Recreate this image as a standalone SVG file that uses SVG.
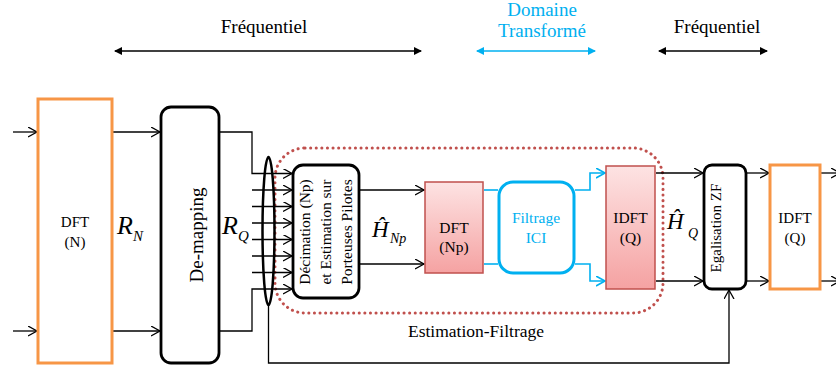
<svg xmlns="http://www.w3.org/2000/svg" width="836" height="367" viewBox="0 0 836 367">
<style>
  .t { font-family: "Liberation Serif", "Times New Roman", serif; fill: #000; }
  .ti { font-family: "Liberation Serif", "Times New Roman", serif; font-style: italic; fill: #000; }
  .blue { fill: #00b0f0; }
  .ln { fill: none; stroke: #000; stroke-width: 1.3; }
  .lnb { fill: none; stroke: #00b0f0; stroke-width: 1.6; }
  .arr { marker-end: url(#oa); }
  .arrb { marker-end: url(#ob); }
  .orange { fill: #fff; stroke: #f79646; stroke-width: 3; }
  .pink { fill: url(#pg); stroke: #c0504d; stroke-width: 1.5; }
  .rbox { fill: #fff; stroke: #000; stroke-width: 2.8; }
</style>
<defs>
  <marker id="oa" markerUnits="userSpaceOnUse" markerWidth="12" markerHeight="12" refX="9" refY="5" orient="auto">
    <path d="M0,0 L9,5 L0,10" fill="none" stroke="#000" stroke-width="1.3"/>
  </marker>
  <marker id="ob" markerUnits="userSpaceOnUse" markerWidth="12" markerHeight="12" refX="9" refY="5" orient="auto">
    <path d="M0,0 L9,5 L0,10" fill="none" stroke="#00b0f0" stroke-width="1.6"/>
  </marker>
  <marker id="fa" markerUnits="userSpaceOnUse" markerWidth="10" markerHeight="10" refX="7" refY="4" orient="auto-start-reverse">
    <path d="M0,0 L8,4 L0,8 Z" fill="#000"/>
  </marker>
  <marker id="fb" markerUnits="userSpaceOnUse" markerWidth="10" markerHeight="10" refX="7" refY="4" orient="auto-start-reverse">
    <path d="M0,0 L8,4 L0,8 Z" fill="#00b0f0"/>
  </marker>
  <linearGradient id="pg" x1="0" y1="0" x2="0" y2="1">
    <stop offset="0" stop-color="#fde3e3"/>
    <stop offset="1" stop-color="#f5a2a2"/>
  </linearGradient>
</defs>

<!-- top domain labels -->
<g id="domains">
  <text class="t" x="264" y="33" font-size="19" text-anchor="middle">Fréquentiel</text>
  <line x1="115" y1="51" x2="421" y2="51" stroke="#000" stroke-width="1.6" marker-start="url(#fa)" marker-end="url(#fa)"/>
  <text class="t blue" x="542" y="16" font-size="19" text-anchor="middle">Domaine</text>
  <text class="t blue" x="542" y="37" font-size="19" text-anchor="middle">Transformé</text>
  <line x1="477" y1="51" x2="595" y2="51" stroke="#00b0f0" stroke-width="1.6" marker-start="url(#fb)" marker-end="url(#fb)"/>
  <text class="t" x="717" y="33" font-size="19" text-anchor="middle">Fréquentiel</text>
  <line x1="659" y1="51" x2="767" y2="51" stroke="#000" stroke-width="1.6" marker-start="url(#fa)" marker-end="url(#fa)"/>
</g>

<!-- estimation-filtrage region -->
<g id="estimation-filtrage">
  <rect x="275" y="148" width="388" height="165" rx="30" ry="30" fill="none" stroke="#c0504d" stroke-width="3" stroke-dasharray="0.1 5.5" stroke-linecap="round"/>
  <text class="t" x="476" y="337" font-size="17.5" text-anchor="middle">Estimation-Filtrage</text>
</g>

<!-- connectors -->
<g id="connectors">
  <line class="ln arr" x1="13" y1="132" x2="37" y2="132"/>
  <line class="ln arr" x1="13" y1="331" x2="37" y2="331"/>
  <line class="ln arr" x1="113" y1="132" x2="160" y2="132"/>
  <line class="ln arr" x1="113" y1="331" x2="160" y2="331"/>
  <polyline class="ln arr" points="220,132 252,132 252,173.5 292,173.5"/>
  <polyline class="ln arr" points="220,331 252,331 252,289 292,289"/>
  <line class="ln arr" x1="252" y1="190" x2="292" y2="190"/>
  <line class="ln arr" x1="252" y1="206.5" x2="292" y2="206.5"/>
  <line class="ln arr" x1="252" y1="223" x2="292" y2="223"/>
  <line class="ln arr" x1="252" y1="239.5" x2="292" y2="239.5"/>
  <line class="ln arr" x1="252" y1="256" x2="292" y2="256"/>
  <line class="ln arr" x1="252" y1="272.5" x2="292" y2="272.5"/>
  <line class="ln arr" x1="360" y1="190" x2="424" y2="190"/>
  <line class="ln arr" x1="360" y1="264" x2="424" y2="264"/>
  <line class="lnb" x1="484" y1="190" x2="498" y2="190"/>
  <line class="lnb" x1="484" y1="264" x2="498" y2="264"/>
  <polyline class="lnb arrb" points="575,190 590,190 590,173 605,173"/>
  <polyline class="lnb arrb" points="575,264 590,264 590,281 605,281"/>
  <line class="ln arr" x1="656" y1="173" x2="703" y2="173"/>
  <line class="ln arr" x1="656" y1="281" x2="703" y2="281"/>
  <line class="ln arr" x1="747" y1="173" x2="769" y2="173"/>
  <line class="ln arr" x1="747" y1="281" x2="769" y2="281"/>
  <line class="ln arr" x1="821" y1="173" x2="840" y2="173"/>
  <line class="ln arr" x1="821" y1="281" x2="840" y2="281"/>
  <polyline class="ln arr" points="268.5,305 268.5,363 729,363 729,290"/>
</g>

<!-- ellipse grouping the parallel lines -->
<g id="grouping">
  <ellipse cx="268.5" cy="231" rx="6" ry="74" fill="none" stroke="#000" stroke-width="2.5"/>
</g>

<g id="dft-n">
  <rect class="orange" x="38" y="99" width="74" height="264"/>
  <text class="t" x="75" y="227" font-size="15" text-anchor="middle">DFT</text>
  <text class="t" x="75" y="247" font-size="15" text-anchor="middle">(N)</text>
</g>

<g id="label-rn">
  <text class="ti" x="117" y="234" font-size="26">R</text>
  <text class="ti" x="133" y="241" font-size="15">N</text>
</g>

<g id="demapping">
  <rect class="rbox" x="161" y="107" width="58" height="256" rx="10" ry="10"/>
  <text class="t" transform="translate(203,235) rotate(-90)" font-size="19" text-anchor="middle">De-mapping</text>
</g>

<g id="label-rq">
  <text class="ti" x="222" y="234" font-size="26">R</text>
  <text class="ti" x="238" y="241" font-size="15">Q</text>
</g>

<g id="decimation">
  <rect class="rbox" x="293" y="165" width="66" height="133" rx="10" ry="10"/>
  <text class="t" transform="translate(310,232) rotate(-90)" font-size="15.5" text-anchor="middle">Décimation (Np)</text>
  <text class="t" transform="translate(331,232) rotate(-90)" font-size="15.5" text-anchor="middle">et Estimation sur</text>
  <text class="t" transform="translate(352,232) rotate(-90)" font-size="15.5" text-anchor="middle">Porteuses Pilotes</text>
</g>

<g id="label-hnp">
  <text class="ti" x="372" y="237" font-size="23">Ĥ</text>
  <text class="ti" x="390" y="243" font-size="14">Np</text>
</g>

<g id="dft-np">
  <rect class="pink" x="425" y="182" width="58" height="91"/>
  <text class="t" x="454" y="233" font-size="15.5" text-anchor="middle">DFT</text>
  <text class="t" x="454" y="252" font-size="15.5" text-anchor="middle">(Np)</text>
</g>

<g id="filtrage">
  <rect x="499" y="182" width="75" height="91" rx="14" ry="14" fill="#fff" stroke="#00b0f0" stroke-width="3"/>
  <text class="t blue" x="536" y="223" font-size="15.5" text-anchor="middle">Filtrage</text>
  <text class="t blue" x="536" y="243" font-size="15.5" text-anchor="middle">ICI</text>
</g>

<g id="idft-q-pink">
  <rect class="pink" x="606" y="166" width="49" height="123"/>
  <text class="t" x="630.5" y="223" font-size="15.5" text-anchor="middle">IDFT</text>
  <text class="t" x="630.5" y="243" font-size="15.5" text-anchor="middle">(Q)</text>
</g>

<g id="label-hq">
  <text class="ti" x="667" y="229" font-size="23">Ĥ</text>
  <text class="ti" x="688" y="238" font-size="14">Q</text>
</g>

<g id="egalisation">
  <rect class="rbox" x="704" y="165" width="42" height="124" rx="8" ry="8"/>
  <text class="t" transform="translate(721,228) rotate(-90)" font-size="15" text-anchor="middle">Egalisation ZF</text>
</g>

<g id="idft-q-orange">
  <rect class="orange" x="770" y="165" width="50" height="124"/>
  <text class="t" x="795" y="223" font-size="15" text-anchor="middle">IDFT</text>
  <text class="t" x="795" y="243" font-size="15" text-anchor="middle">(Q)</text>
</g>
</svg>
